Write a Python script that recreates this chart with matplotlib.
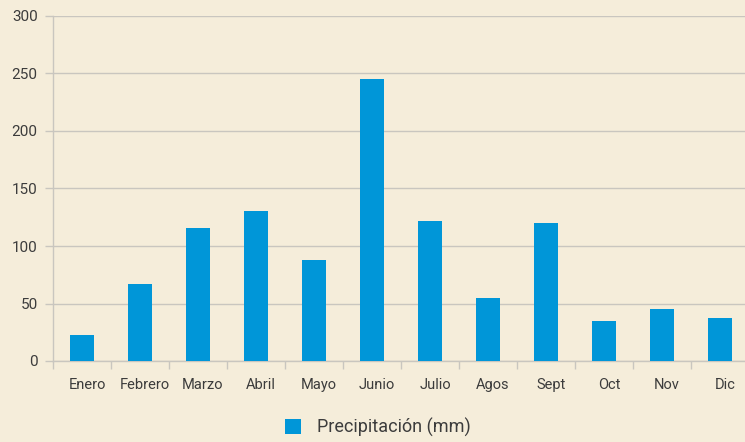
import matplotlib
matplotlib.use("Agg")
import matplotlib.pyplot as plt
import matplotlib.transforms as mtransforms
from matplotlib.patches import Patch

# monthly rainfall (mm)
months = ["Enero", "Febrero", "Marzo", "Abril", "Mayo", "Junio",
          "Julio", "Agos", "Sept", "Oct", "Nov", "Dic"]
precip = [23, 67, 116, 130, 88, 245, 122, 55, 120, 35, 45, 37]
y_ticks = [0, 50, 100, 150, 200, 250, 300]

BG = "#F5EDDA"
BAR = "#0096D8"
GRID = "#C9C6BF"
TXT = "#3C3C3C"

plt.rcParams['font.family'] = ['Roboto', 'DejaVu Sans']

fig = plt.figure(figsize=(7.45, 4.42), dpi=100, facecolor=BG)
ax = fig.add_axes([53/745, 1 - 361/442, 696/745, 345/442], facecolor=BG)

x = list(range(len(months)))
ax.bar(x, precip, width=0.41, color=BAR, zorder=3)

ax.set_xlim(-0.5, len(months) - 0.5)
ax.set_ylim(0, 300)
ax.set_yticks(y_ticks)
ax.set_xticks(x)
ax.set_xticklabels(months)
# minor ticks mark category boundaries on the x axis
ax.set_xticks([i - 0.5 for i in range(len(months) + 1)], minor=True)
ax.tick_params(axis='x', which='major', length=0, pad=12, labelsize=10.5, labelcolor=TXT)
ax.tick_params(axis='x', which='minor', length=6, color=GRID, width=1)
ax.tick_params(axis='y', length=6, color=GRID, width=1, pad=5, labelsize=11, labelcolor=TXT)

# labels in the original sit a little right of the bars
shift = mtransforms.ScaledTranslation(0.05, 0, fig.dpi_scale_trans)
for lbl in ax.get_xticklabels():
    lbl.set_transform(lbl.get_transform() + shift)

ax.grid(axis='y', color=GRID, linewidth=1, zorder=0)
for s in ['top', 'right']:
    ax.spines[s].set_visible(False)
for s in ['left', 'bottom']:
    ax.spines[s].set_color(GRID)
    ax.spines[s].set_linewidth(1)

handle = Patch(facecolor=BAR, edgecolor='none')
fig.legend([handle], ["Precipitación (mm)"], loc='center', bbox_to_anchor=(378/745, 1 - 427/442),
           frameon=False, fontsize=13, handlelength=0.9, handleheight=0.9,
           handletextpad=0.9, labelcolor=TXT)

fig.savefig("out.png", dpi=100, facecolor=BG)
